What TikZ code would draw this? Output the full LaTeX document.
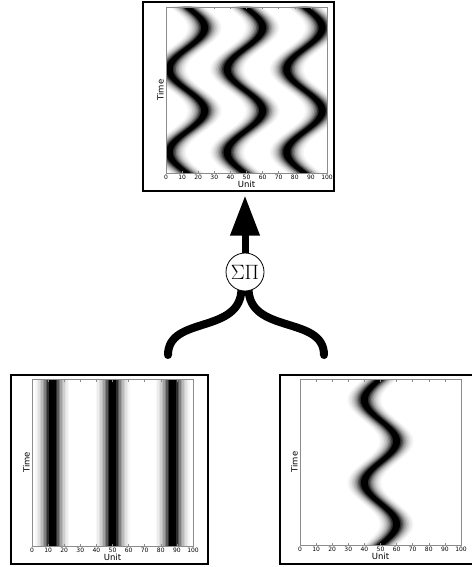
\documentclass[tikz,border=0pt]{standalone}
\usepackage[no-math]{fontspec}
\newfontfamily\plotfont{DejaVu Sans}
\usetikzlibrary{arrows.meta,backgrounds,calc}

\tikzset{
  panel/.style={draw=black, line width=1.1pt, inner sep=0pt},
  axisframe/.style={draw=black!45, line width=0.5pt},
  ticklabel/.style={font=\plotfont\fontsize{6}{7}\selectfont, inner sep=0pt},
  axislabel/.style={font=\plotfont\fontsize{8.5}{9}\selectfont, inner sep=0pt},
  mixer/.style={circle, draw, line width=0.8pt, fill=white, minimum size=38pt,
    inner sep=0pt, font=\fontsize{20}{24}\selectfont},
  flow/.style={line width=8pt, line cap=round},
}

\begin{document}
\begin{tikzpicture}[x=1pt,y=-1pt]
  \useasboundingbox (0,0) rectangle (471,567);

  % the three figure panels
  \node[panel, minimum width=191pt, minimum height=189pt] (out) at (238.5,96.5) {};
  \node[panel, minimum width=197pt, minimum height=189pt] (inl) at (109.5,469.5) {};
  \node[panel, minimum width=193pt, minimum height=189pt] (inr) at (376.5,469.5) {};

  % output: three shifted waves
  \begin{scope}
    \clip (166,7) rectangle (327,173);
    \foreach \w/\g in {17/3,15.5/7,14/12,12.5/19,11/27,9.5/37,8/50,6.5/65,5/82,3.5/100}
      \foreach \c in {13,49,86}
        \fill[black!\g] plot[samples=90,domain=7:173] ({166+1.61*(\c+11*sin(4.3373*(\x-7)))-\w},\x)
          -- plot[samples=90,domain=173:7] ({166+1.61*(\c+11*sin(4.3373*(\x-7)))+\w},\x) -- cycle;
  \end{scope}

  % left input: fixed stripes
  \begin{scope}
    \clip (32,379) rectangle (193,546);
    \foreach \w/\g in {17/3,15.5/7,14/12,12.5/19,11/27,9.5/37,8/50,6.5/65,5/82,3.5/100}
      \foreach \c in {12.5,50,87.5}
        \fill[black!\g] ({32+1.61*\c-\w},379) rectangle ({32+1.61*\c+\w},546);
  \end{scope}

  % right input: one wave
  \begin{scope}
    \clip (300,379) rectangle (461,545);
    \foreach \w/\g in {17/3,15.5/7,14/12,12.5/19,11/27,9.5/37,8/50,6.5/65,5/82,3.5/100}
      \fill[black!\g] plot[samples=90,domain=379:545] ({300+1.61*(50-10*sin(4.3373*(\x-379)))-\w},\x)
        -- plot[samples=90,domain=545:379] ({300+1.61*(50-10*sin(4.3373*(\x-379)))+\w},\x) -- cycle;
  \end{scope}

  % axes, ticks and labels
  \foreach \ax/\ay/\by/\p in {166/7/173/out, 32/379/546/inl, 300/379/545/inr} {
    \draw[axisframe] (\ax,\ay) rectangle ({\ax+161},\by);
    \foreach \t in {0,10,...,100} {
      \draw[axisframe] ({\ax+1.61*\t},\ay) -- ++(0,2.5);
      \draw[axisframe] ({\ax+1.61*\t},\by) -- ++(0,-2.5);
      \node[ticklabel] (\p-t\t) at ({\ax+1.61*\t},{\by+4.5}) {\t};
    }
    \node[axislabel] (\p-unit) at ({\ax+80.5},{\by+11}) {Unit};
    \node[axislabel, rotate=90] (\p-time) at ({\ax-5.5},{(\ay+\by)/2}) {Time};
  }

  % combination
  \node[mixer] (sum) at (245,272) {$\Sigma\Pi$};
  \coordinate (lend) at (168,355);
  \coordinate (rend) at (324,355);
  \begin{scope}[on background layer]
    \fill[white] (0,0) rectangle (471,567);
    \draw[flow] ($(sum.center)+(-3.5,0)$) -- ++(0,16) .. controls +(0,47) and +(0,-40) .. (lend);
    \draw[flow] ($(sum.center)+(3.5,0)$) -- ++(0,16) .. controls +(0,47) and +(0,-40) .. (rend);
  \end{scope}
  \draw[line width=7pt, -{Triangle[length=40pt,width=28pt]}, shorten >=4pt]
    (sum.north) -- (out.south -| sum);
\end{tikzpicture}
\end{document}
